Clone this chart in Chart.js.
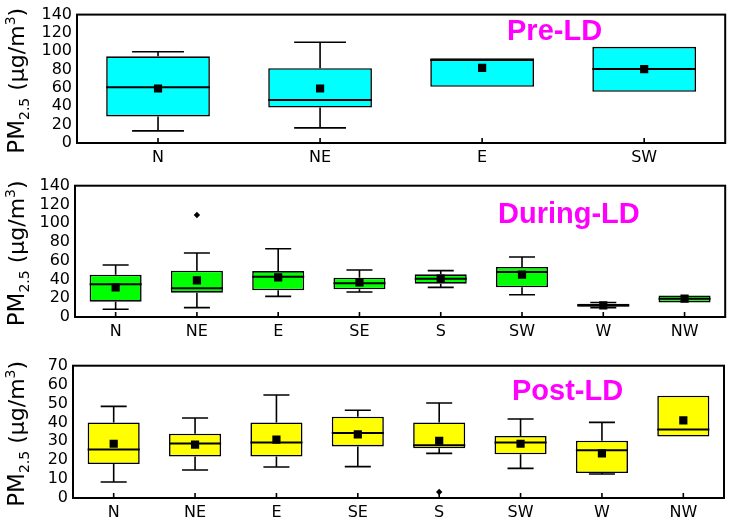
<!DOCTYPE html>
<html>
<head>
<meta charset="utf-8">
<script src="https://cdn.jsdelivr.net/npm/chart.js@4.4.0/dist/chart.umd.min.js"></script>
<style>
body { margin: 0; background: #fff; }
#wrap { position: relative; width: 731px; height: 520px; }
#wrap canvas { position: absolute; left: 0; top: 0; }
</style>
</head>
<body>
<div id="wrap">
<canvas id="pre" width="731" height="520"></canvas>
<canvas id="during" width="731" height="520"></canvas>
<canvas id="post" width="731" height="520"></canvas>
</div>
<script>
// Pre-LD
const preLabels = ['N', 'NE', 'E', 'SW'];
const preMin = [13.2, 16.5, 61.2, 55.9];
const preQ1 = [29, 38.7, 61.2, 55.9];
const preMedian = [60.9, 46.9, 90.6, 80.6];
const preQ3 = [94.5, 81.6, 92.4, 104.9];
const preMax = [99.5, 109.9, 92.4, 104.9];
const preMean = [59.4, 59.4, 82, 80.6];
const preOutliers = [null, null, null, null];

// During-LD
const duringLabels = ['N', 'NE', 'E', 'SE', 'S', 'SW', 'W', 'NW'];
const duringMin = [8.2, 10, 22, 26.7, 31.6, 23.8, 10, 15.5];
const duringQ1 = [16.3, 25.9, 28.4, 29.5, 35.5, 31.6, 11, 15.5];
const duringMedian = [34.8, 30.6, 43, 35.9, 40.9, 48, 12.5, 19.5];
const duringQ3 = [45.1, 49.4, 49, 41.9, 45.5, 53.3, 14, 23];
const duringMax = [55.4, 68.2, 72.8, 50.1, 49.4, 64, 15.5, 23];
const duringMean = [31.6, 39.1, 42.3, 37, 40.9, 45.1, 12.4, 19.5];
const duringOutliers = [null, 108.7, null, null, null, null, null, null];

// Post-LD
const postLabels = ['N', 'NE', 'E', 'SE', 'S', 'SW', 'W', 'NW'];
const postMin = [8.5, 14.8, 16.4, 16.6, 23.6, 15.7, 12.7, 32.5];
const postQ1 = [18, 21.9, 21.9, 27.3, 26.3, 23.1, 13.2, 32.5];
const postMedian = [25.7, 28.9, 29.3, 34.4, 27.9, 29.3, 25.2, 36.3];
const postQ3 = [40, 34, 40, 43, 40, 32.8, 30.3, 54.1];
const postMax = [48.5, 42.3, 54.5, 46.4, 50.3, 41.8, 40, 54.1];
const postMean = [28.7, 28.2, 30.9, 33.7, 30.3, 28.7, 23.6, 41.1];
const postOutliers = [null, null, null, null, 3.2, null, null, null];

Chart.defaults.font.family = "'DejaVu Sans', sans-serif";
Chart.defaults.color = '#000';

function drawYTitle(ctx, x, y) {
    const parts = [
        { t: 'PM', size: 23, dy: 0 },
        { t: '2.5', size: 14, dy: 5 },
        { t: ' (\u03bcg/m', size: 22, dy: 0 },
        { t: '3', size: 14, dy: -9 },
        { t: ')', size: 22, dy: 0 }
    ];
    ctx.save();
    let total = 0;
    parts.forEach(p => {
        ctx.font = p.size + "px 'DejaVu Sans'";
        p.w = ctx.measureText(p.t).width;
        total += p.w;
    });
    ctx.translate(x, y);
    ctx.rotate(-Math.PI / 2);
    ctx.fillStyle = '#000';
    ctx.textBaseline = 'alphabetic';
    let pos = -total / 2;
    parts.forEach(p => {
        ctx.font = p.size + "px 'DejaVu Sans'";
        ctx.fillText(p.t, pos, p.dy);
        pos += p.w;
    });
    ctx.restore();
}

function boxPanel(id, panel) {
    const stats = {
        min: panel.min, q1: panel.q1, median: panel.median, q3: panel.q3, max: panel.max
    };
    const area = panel.area;

    const extras = {
        id: 'boxExtras',
        afterDatasetDraw(chart, args) {
            if (args.index !== 0) return;
            const ctx = chart.ctx;
            const y = chart.scales.y;
            const meta = chart.getDatasetMeta(0);
            ctx.save();
            ctx.strokeStyle = '#000';
            meta.data.forEach((bar, i) => {
                const cx = bar.x;
                const hw = bar.width / 2;
                ctx.lineWidth = 2;
                ctx.beginPath();
                ctx.moveTo(cx - hw, y.getPixelForValue(stats.median[i]));
                ctx.lineTo(cx + hw, y.getPixelForValue(stats.median[i]));
                ctx.stroke();
                ctx.lineWidth = 1.6;
                if (stats.max[i] > stats.q3[i]) {
                    const top = y.getPixelForValue(stats.max[i]);
                    ctx.beginPath();
                    ctx.moveTo(cx, y.getPixelForValue(stats.q3[i]));
                    ctx.lineTo(cx, top);
                    ctx.moveTo(cx - hw / 2, top);
                    ctx.lineTo(cx + hw / 2, top);
                    ctx.stroke();
                }
                if (stats.min[i] < stats.q1[i]) {
                    const bot = y.getPixelForValue(stats.min[i]);
                    ctx.beginPath();
                    ctx.moveTo(cx, y.getPixelForValue(stats.q1[i]));
                    ctx.lineTo(cx, bot);
                    ctx.moveTo(cx - hw / 2, bot);
                    ctx.lineTo(cx + hw / 2, bot);
                    ctx.stroke();
                }
            });
            ctx.restore();
        },
        afterDraw(chart) {
            const ctx = chart.ctx;
            const ca = chart.chartArea;
            const x = chart.scales.x;
            ctx.save();
            ctx.strokeStyle = '#000';
            ctx.lineWidth = 2;
            ctx.strokeRect(ca.left, ca.top, ca.right - ca.left, ca.bottom - ca.top);
            ctx.lineWidth = 1.6;
            ctx.beginPath();
            panel.labels.forEach((l, i) => {
                const px = x.getPixelForValue(i);
                ctx.moveTo(px, ca.bottom);
                ctx.lineTo(px, ca.bottom - 5);
            });
            ctx.stroke();
            ctx.fillStyle = '#ff00ff';
            ctx.font = "bold 29px 'Liberation Sans', Arial, sans-serif";
            ctx.textBaseline = 'alphabetic';
            ctx.fillText(panel.title, panel.titleX, panel.titleY);
            ctx.restore();
            drawYTitle(ctx, 24, (ca.top + ca.bottom) / 2 + 2);
        }
    };

    return new Chart(document.getElementById(id), {
        type: 'bar',
        data: {
            labels: panel.labels,
            datasets: [
                {
                    data: panel.q1.map((v, i) => [v, panel.q3[i]]),
                    backgroundColor: panel.color,
                    borderColor: '#000',
                    borderWidth: 1.6,
                    borderSkipped: false,
                    barPercentage: 0.64,
                    categoryPercentage: 1,
                    order: 2
                },
                {
                    type: 'line',
                    data: panel.mean,
                    showLine: false,
                    pointStyle: 'rect',
                    pointRadius: 5.8,
                    pointBackgroundColor: '#000',
                    pointBorderWidth: 0,
                    order: 1
                },
                {
                    type: 'line',
                    data: panel.outliers,
                    showLine: false,
                    pointStyle: 'rectRot',
                    pointRadius: 3.2,
                    pointBackgroundColor: '#000',
                    pointBorderWidth: 0,
                    order: 0
                }
            ]
        },
        options: {
            responsive: false,
            animation: false,
            layout: {
                padding: {
                    left: 0,
                    top: area.top,
                    right: 731 - area.right,
                    bottom: 520 - area.bottom - 30
                }
            },
            plugins: {
                legend: { display: false },
                tooltip: { enabled: false }
            },
            scales: {
                x: {
                    grid: { display: false, drawTicks: false },
                    border: { display: false },
                    ticks: { font: { size: 16 }, padding: 5 },
                    afterFit: (s) => { s.height = 30; }
                },
                y: {
                    min: 0,
                    max: panel.yMax,
                    grid: { display: false, drawTicks: false },
                    border: { display: false },
                    ticks: { stepSize: panel.yStep, font: { size: 16 }, padding: 5, autoSkip: false },
                    afterFit: (s) => { s.width = area.left; }
                }
            }
        },
        plugins: [extras]
    });
}

boxPanel('pre', {
    labels: preLabels, min: preMin, q1: preQ1, median: preMedian, q3: preQ3, max: preMax,
    mean: preMean, outliers: preOutliers, color: '#00ffff', yMax: 140, yStep: 20,
    title: 'Pre-LD', titleX: 507, titleY: 39.5,
    area: { left: 77, top: 11.5, right: 728, bottom: 143 }
});

boxPanel('during', {
    labels: duringLabels, min: duringMin, q1: duringQ1, median: duringMedian, q3: duringQ3, max: duringMax,
    mean: duringMean, outliers: duringOutliers, color: '#00ff00', yMax: 140, yStep: 20,
    title: 'During-LD', titleX: 498, titleY: 223,
    area: { left: 75, top: 185.7, right: 727, bottom: 317 }
});

boxPanel('post', {
    labels: postLabels, min: postMin, q1: postQ1, median: postMedian, q3: postQ3, max: postMax,
    mean: postMean, outliers: postOutliers, color: '#ffff00', yMax: 70, yStep: 10,
    title: 'Post-LD', titleX: 512, titleY: 400,
    area: { left: 73, top: 365.7, right: 724, bottom: 498 }
});
</script>
</body>
</html>
